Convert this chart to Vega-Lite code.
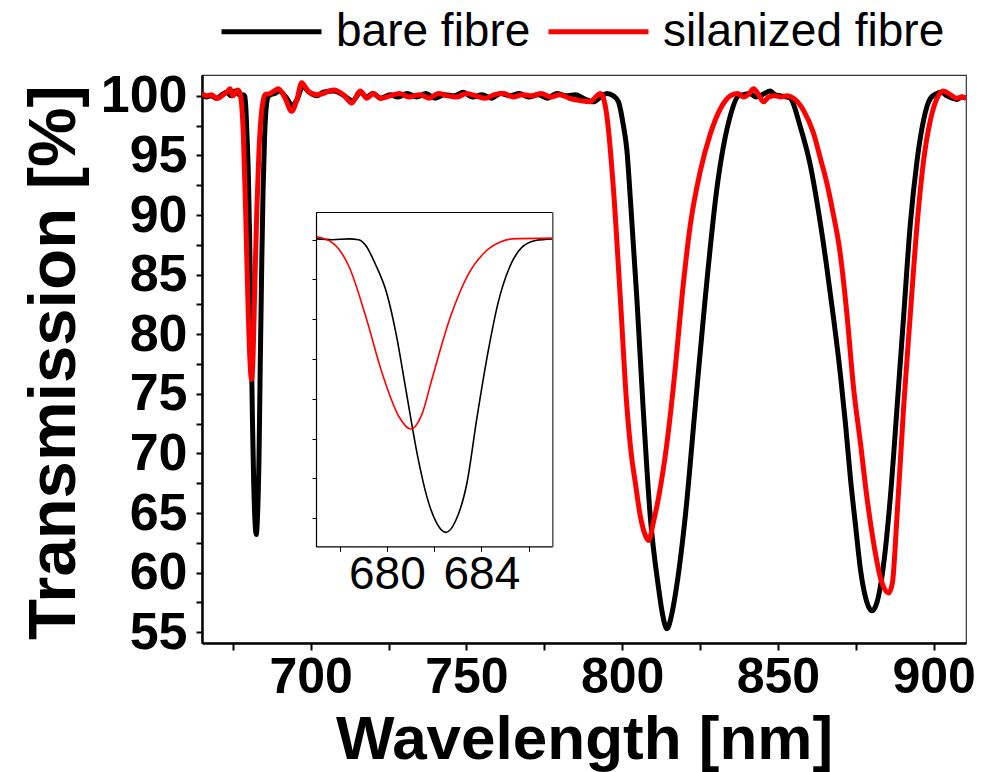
{
  "$schema": "https://vega.github.io/schema/vega-lite/v6.json",
  "autosize": {"type": "none"},
  "padding": {"left": 202, "top": 75, "right": 21, "bottom": 129},
  "width": 764,
  "height": 568,
  "background": "white",
  "config": {"font": "Liberation Sans", "view": {"stroke": "#333", "strokeWidth": 1.2}},
  "datasets": {
    "bare": [
      {"nm":665.1,"t":100.1},{"nm":666.5,"t":99.9},{"nm":668,"t":100.0},{"nm":669.8,"t":99.8},{"nm":671.5,"t":100.1},{"nm":673,"t":100.3},{"nm":674.5,"t":100.0},{"nm":675.7,"t":100.4},{"nm":677.0,"t":100.1},{"nm":677.7,"t":100.0},{"nm":678.4,"t":100.1},{"nm":678.8,"t":100.0},{"nm":679.1,"t":99.3},{"nm":679.5,"t":97.0},{"nm":680.0,"t":93.2},{"nm":680.4,"t":88.0},{"nm":680.8,"t":81.2},{"nm":681.3,"t":72.8},{"nm":681.7,"t":67.6},{"nm":682.1,"t":64.4},{"nm":682.5,"t":63.2},{"nm":682.9,"t":64.6},{"nm":683.4,"t":69.6},{"nm":683.8,"t":77.4},{"nm":684.3,"t":86.2},{"nm":684.7,"t":92.0},{"nm":685.2,"t":96.6},{"nm":685.7,"t":99.0},{"nm":686.3,"t":99.9},{"nm":687.0,"t":100.1},{"nm":688.5,"t":100.2},{"nm":690,"t":100.4},{"nm":692,"t":99.9},{"nm":694.2,"t":99.2},{"nm":695.8,"t":99.8},{"nm":697.4,"t":100.8},{"nm":699.5,"t":100.3},{"nm":702,"t":100.0},{"nm":704,"t":100.3},{"nm":707.5,"t":100.4},{"nm":710.8,"t":100.0},{"nm":713.5,"t":99.6},{"nm":716,"t":100.3},{"nm":718,"t":99.9},{"nm":720,"t":100.2},{"nm":722.5,"t":99.8},{"nm":725.5,"t":100.1},{"nm":728,"t":99.9},{"nm":731,"t":100.2},{"nm":734,"t":99.9},{"nm":737,"t":100.2},{"nm":740,"t":99.8},{"nm":743,"t":100.1},{"nm":746,"t":100.0},{"nm":749,"t":100.3},{"nm":752,"t":99.9},{"nm":755,"t":100.1},{"nm":758,"t":99.8},{"nm":761,"t":100.2},{"nm":764,"t":100.0},{"nm":767,"t":100.2},{"nm":770,"t":99.9},{"nm":773,"t":100.1},{"nm":776,"t":99.8},{"nm":779,"t":100.2},{"nm":782,"t":100.0},{"nm":785,"t":100.1},{"nm":787.5,"t":99.8},{"nm":790.8,"t":99.5},{"nm":793,"t":99.9},{"nm":795.1,"t":100.2},{"nm":797.2,"t":100.0},{"nm":798.8,"t":99.5},{"nm":800.4,"t":97.5},{"nm":801.5,"t":95.5},{"nm":802.6,"t":91.5},{"nm":804.7,"t":83.1},{"nm":806.7,"t":74.0},{"nm":809.0,"t":64.8},{"nm":811.7,"t":58.7},{"nm":812.9,"t":56.6},{"nm":814.4,"t":55.3},{"nm":816.0,"t":56.6},{"nm":817.4,"t":58.7},{"nm":820.3,"t":64.8},{"nm":823.5,"t":74.0},{"nm":826.7,"t":83.1},{"nm":830.4,"t":92.2},{"nm":834.7,"t":98.3},{"nm":837.4,"t":100.0},{"nm":839,"t":100.1},{"nm":841,"t":100.2},{"nm":843,"t":99.9},{"nm":845,"t":100.1},{"nm":847.6,"t":100.4},{"nm":849,"t":100.1},{"nm":851,"t":100.0},{"nm":853,"t":99.9},{"nm":854.0,"t":99.8},{"nm":857.2,"t":97.4},{"nm":860.4,"t":94.2},{"nm":863.1,"t":90.2},{"nm":865.5,"t":86.0},{"nm":867.8,"t":81.5},{"nm":870.0,"t":76.8},{"nm":871.7,"t":72.5},{"nm":873.3,"t":67.9},{"nm":875,"t":63.8},{"nm":876.5,"t":60.3},{"nm":878.6,"t":57.5},{"nm":880.2,"t":56.8},{"nm":881.8,"t":57.5},{"nm":883.9,"t":60.6},{"nm":886.1,"t":66.3},{"nm":888.3,"t":74.0},{"nm":890.4,"t":81.6},{"nm":892.5,"t":89.2},{"nm":894.7,"t":94.6},{"nm":896.8,"t":98.0},{"nm":899.0,"t":99.8},{"nm":901.1,"t":100.2},{"nm":902.5,"t":100.3},{"nm":904.3,"t":100.0},{"nm":906,"t":99.8},{"nm":907.5,"t":99.7},{"nm":909,"t":99.9},{"nm":910.4,"t":99.8}
    ],
    "sil": [
      {"nm":665.1,"t":100.2},{"nm":666.6,"t":100.0},{"nm":668.2,"t":100.1},{"nm":669.8,"t":99.8},{"nm":671.0,"t":99.9},{"nm":671.9,"t":100.1},{"nm":673,"t":100.3},{"nm":674.1,"t":100.6},{"nm":675.0,"t":100.0},{"nm":675.7,"t":100.2},{"nm":676.5,"t":100.5},{"nm":677.0,"t":100.4},{"nm":677.7,"t":99.6},{"nm":678.4,"t":96.6},{"nm":679.1,"t":90.4},{"nm":679.8,"t":83.2},{"nm":680.5,"t":77.8},{"nm":681.0,"t":76.2},{"nm":681.5,"t":78.2},{"nm":681.9,"t":82.4},{"nm":682.7,"t":90.4},{"nm":683.4,"t":95.4},{"nm":684.1,"t":98.3},{"nm":684.8,"t":99.7},{"nm":685.3,"t":100.1},{"nm":687.0,"t":100.2},{"nm":688.2,"t":100.4},{"nm":689.6,"t":100.6},{"nm":691.8,"t":99.8},{"nm":693.9,"t":98.7},{"nm":695.5,"t":99.6},{"nm":697.1,"t":101.1},{"nm":699.2,"t":100.4},{"nm":701.9,"t":100.1},{"nm":704,"t":100.2},{"nm":707.3,"t":100.5},{"nm":710.5,"t":100.1},{"nm":713.2,"t":99.4},{"nm":715.9,"t":100.4},{"nm":718,"t":99.8},{"nm":720.1,"t":100.2},{"nm":722.3,"t":99.8},{"nm":725.5,"t":100.0},{"nm":728.5,"t":100.2},{"nm":731.5,"t":99.9},{"nm":735,"t":100.1},{"nm":738,"t":99.8},{"nm":741,"t":100.2},{"nm":744,"t":100.0},{"nm":747,"t":99.9},{"nm":750,"t":100.2},{"nm":753,"t":100.0},{"nm":756,"t":99.8},{"nm":759,"t":100.1},{"nm":762,"t":100.2},{"nm":765,"t":99.9},{"nm":768,"t":100.1},{"nm":771,"t":100.0},{"nm":774,"t":100.2},{"nm":777,"t":99.9},{"nm":780,"t":100.1},{"nm":783,"t":99.8},{"nm":786.5,"t":99.6},{"nm":789.7,"t":99.5},{"nm":791.9,"t":100.0},{"nm":793.0,"t":100.2},{"nm":794.0,"t":99.8},{"nm":795.1,"t":98.3},{"nm":797.2,"t":92.2},{"nm":799.4,"t":83.1},{"nm":801.5,"t":74.0},{"nm":803.0,"t":69.8},{"nm":804.2,"t":67.6},{"nm":805.8,"t":64.8},{"nm":807.2,"t":63.3},{"nm":808.5,"t":62.7},{"nm":810,"t":64.2},{"nm":811.7,"t":66.3},{"nm":814.4,"t":70.9},{"nm":817.0,"t":77.0},{"nm":819.2,"t":83.1},{"nm":821.9,"t":89.2},{"nm":825.1,"t":93.7},{"nm":828.3,"t":96.8},{"nm":831.5,"t":98.9},{"nm":834.7,"t":100.0},{"nm":837,"t":100.2},{"nm":839,"t":99.9},{"nm":840.5,"t":100.1},{"nm":842.2,"t":100.6},{"nm":843.8,"t":100.1},{"nm":845.4,"t":99.5},{"nm":847,"t":99.9},{"nm":849,"t":100.0},{"nm":851,"t":99.9},{"nm":853,"t":100.0},{"nm":855.0,"t":99.8},{"nm":858.2,"t":98.8},{"nm":861.4,"t":96.9},{"nm":863.6,"t":94.8},{"nm":865.8,"t":92.6},{"nm":867.4,"t":90.6},{"nm":870.0,"t":86.8},{"nm":872.2,"t":81.6},{"nm":874.3,"t":75.5},{"nm":876.5,"t":70.9},{"nm":878.6,"t":66.3},{"nm":880.8,"t":62.4},{"nm":882.9,"t":59.6},{"nm":885.6,"t":58.3},{"nm":886.8,"t":59.2},{"nm":888.2,"t":64.5},{"nm":890.4,"t":74.0},{"nm":892.5,"t":81.6},{"nm":894.7,"t":89.2},{"nm":896.8,"t":94.6},{"nm":899.0,"t":98.0},{"nm":901.1,"t":99.8},{"nm":903.2,"t":100.4},{"nm":905.4,"t":100.1},{"nm":907.5,"t":99.8},{"nm":909,"t":99.9},{"nm":910.4,"t":99.8}
    ]
  },
  "layer": [
    {
      "encoding": {
        "x": {"field": "nm", "type": "quantitative",
          "scale": {"domain": [665.1, 910.4], "nice": false, "zero": false},
          "axis": {"values": [675,700,725,750,775,800,825,850,875,900], "format": "d",
            "labelExpr": "datum.value % 50 === 0 ? datum.label : ''",
            "grid": false, "tickSize": 7, "tickWidth": 2, "tickColor": "black", "domainColor": "black", "domainWidth": 2.5,
            "labelFontSize": 50, "labelFontWeight": "bold", "labelColor": "black", "labelPadding": 2, "labelOverlap": false, "labelFlush": false,
            "title": "Wavelength [nm]", "titleFontSize": 62, "titleFontWeight": "bold", "titleColor": "black",
            "titleBaseline": "alphabetic", "titleY": 115, "titleX": 382, "titleAnchor": "middle"}},
        "y": {"field": "t", "type": "quantitative",
          "scale": {"domain": [54.1, 101.75], "nice": false, "zero": false},
          "axis": {"values": [55,57.5,60,62.5,65,67.5,70,72.5,75,77.5,80,82.5,85,87.5,90,92.5,95,97.5,100], "format": "d",
            "labelExpr": "datum.value % 5 === 0 ? datum.label : ''",
            "grid": false, "tickSize": 6, "tickWidth": 2, "tickColor": "black", "domainColor": "black", "domainWidth": 2.5,
            "labelFontSize": 52, "labelFontWeight": "bold", "labelColor": "black", "labelPadding": 9, "labelOverlap": false, "labelFlush": false,
            "title": "Transmission [%]", "titleFontSize": 67, "titleFontWeight": "bold", "titleColor": "black",
            "titleBaseline": "alphabetic", "titleAngle": 270, "titleX": -128, "titleY": 287, "titleAlign": "center"}},
        "color": {"field": "s", "type": "nominal",
          "scale": {"domain": ["bare fibre", "silanized fibre"], "range": ["black", "#ff0000"]},
          "legend": {"orient": "none", "legendX": 17, "legendY": -96, "direction": "horizontal", "title": null,
            "symbolType": "stroke", "symbolSize": 10000, "symbolStrokeWidth": 5, "labelFontSize": 46, "labelColor": "black",
            "labelOffset": 12, "columnPadding": 7, "labelLimit": 500}}
      },
      "layer": [
        {"data": {"name": "bare"}, "transform": [{"calculate": "'bare fibre'", "as": "s"}],
         "mark": {"type": "line", "strokeWidth": 5, "interpolate": "monotone", "clip": true}},
        {"data": {"name": "sil"}, "transform": [{"calculate": "'silanized fibre'", "as": "s"}],
         "mark": {"type": "line", "strokeWidth": 5, "interpolate": "monotone", "clip": true}}
      ]
    },
    {
      "encoding": {
        "x": {"field": "nm", "type": "quantitative",
          "scale": {"domain": [677, 687], "range": [114, 350.3], "nice": false, "zero": false},
          "axis": {"orient": "bottom", "offset": -96.6, "values": [678,680,682,684,686], "format": "d",
            "labelExpr": "datum.value === 680 || datum.value === 684 ? datum.label : ''",
            "grid": false, "tickSize": 5, "tickWidth": 1, "tickColor": "black", "domainColor": "black", "domainWidth": 1.2,
            "labelFontSize": 46, "labelFontWeight": "normal", "labelColor": "black", "labelPadding": 1, "labelOverlap": false, "labelFlush": false,
            "title": null, "zindex": 2}},
        "y": {"field": "t", "type": "quantitative",
          "scale": {"domain": [61.44, 103.48], "range": [471.4, 137], "nice": false, "zero": false},
          "axis": {"orient": "left", "offset": -114, "values": [65,70,75,80,85,90,95,100],
            "labels": false, "grid": false, "tickSize": 4, "tickWidth": 1, "tickColor": "black", "domainColor": "black", "domainWidth": 1.2,
            "title": null, "zindex": 2}}
      },
      "layer": [
        {"data": {"name": "bare"}, "transform": [{"filter": "datum.nm >= 677 && datum.nm <= 687"}],
         "mark": {"type": "line", "color": "black", "strokeWidth": 1.6, "interpolate": "monotone"}},
        {"data": {"name": "sil"}, "transform": [{"filter": "datum.nm >= 677 && datum.nm <= 687"}],
         "mark": {"type": "line", "color": "#ff0000", "strokeWidth": 1.6, "interpolate": "monotone"}}
      ]
    },
    {
      "data": {"name": "bare"},
      "transform": [{"filter": "datum.nm >= 677 && datum.nm <= 687"}],
      "mark": {"type": "line", "opacity": 0},
      "encoding": {
        "x": {"field": "nm", "type": "quantitative",
          "scale": {"domain": [677, 687], "range": [114, 350.3], "nice": false, "zero": false},
          "axis": {"orient": "top", "offset": -137, "ticks": false, "labels": false, "grid": false,
            "domainColor": "black", "domainWidth": 1.2, "title": null, "zindex": 2}},
        "y": {"field": "t", "type": "quantitative",
          "scale": {"domain": [61.44, 103.48], "range": [471.4, 137], "nice": false, "zero": false},
          "axis": {"orient": "right", "offset": -413.7, "ticks": false, "labels": false, "grid": false,
            "domainColor": "#555", "domainWidth": 1.5, "title": null, "zindex": 2}}
      }
    }
  ],
  "resolve": {"scale": {"x": "independent", "y": "independent"}, "axis": {"x": "independent", "y": "independent"}}
}
